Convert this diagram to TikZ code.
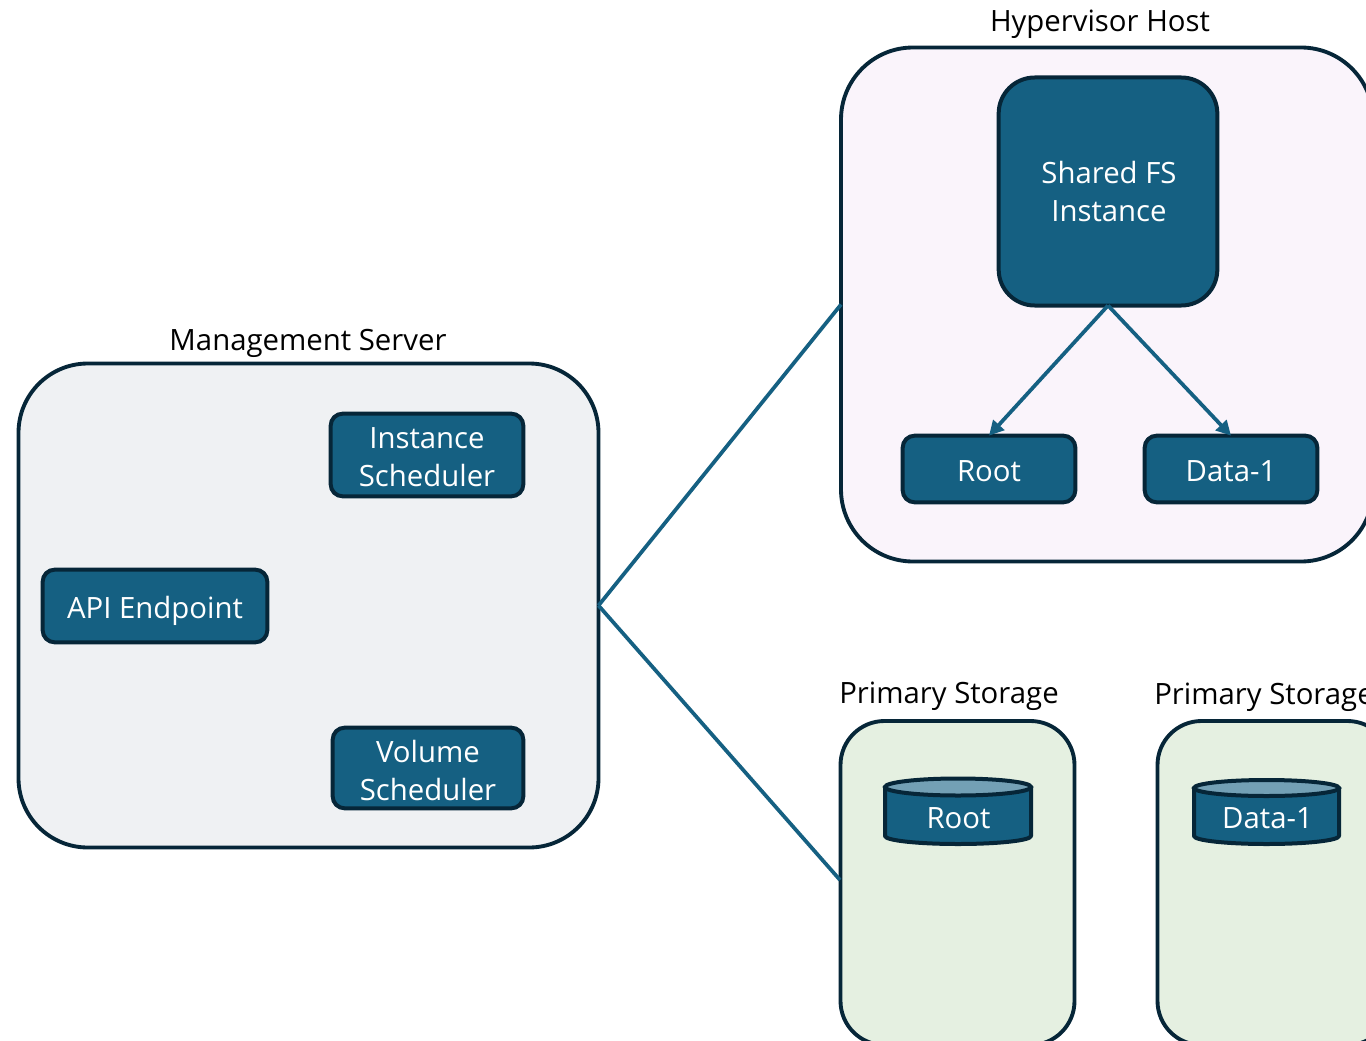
\documentclass[tikz,border=0pt]{standalone}
\usepackage{fontspec}
\setmainfont{Open Sans}
\usetikzlibrary{arrows.meta}
\definecolor{tealfill}{HTML}{156082}
\definecolor{darkedge}{HTML}{062638}
\definecolor{mgmtbg}{HTML}{EFF1F3}
\definecolor{hostbg}{HTML}{FAF4FB}
\definecolor{storebg}{HTML}{E5F0E1}
\definecolor{cyltop}{HTML}{73A0B5}
\tikzset{
  x=0.75pt,y=-0.75pt,
  panel/.style={draw=darkedge,line width=2.9pt,inner sep=0pt,outer sep=0pt},
  compbox/.style={draw=darkedge,fill=tealfill,line width=3pt,inner sep=0pt,outer sep=0pt,align=center,rounded corners=9pt},
  boxtext/.style={text=white,align=center,font=\fontsize{22}{28.5}\selectfont,inner sep=0pt},
  caption/.style={font=\fontsize{22}{26}\selectfont,text=black,inner sep=0pt},
  link/.style={draw=tealfill,line width=2.8pt},
  linkarrow/.style={link,-{Triangle[length=11pt,width=11pt]}},
  cylbody/.style={draw=darkedge,fill=tealfill,line width=3pt,line join=round},
  cylcap/.style={draw=darkedge,fill=cyltop,line width=3pt}
}
\begin{document}
\begin{tikzpicture}
\useasboundingbox (0,0) rectangle (1366,1041);
\clip (0,0) rectangle (1366,1041);
\fill[white] (0,0) rectangle (1366,1041);
% panels
\node[panel,fill=mgmtbg,rounded corners=52pt,minimum width=435pt,minimum height=363pt] (mgmt) at (308.5,605.5) {};
\node[panel,fill=hostbg,rounded corners=54pt,minimum width=399pt,minimum height=385.5pt] (host) at (1107,304.5) {};
\node[panel,fill=storebg,rounded corners=33pt,minimum width=175.5pt,minimum height=243pt] (storeA) at (957.5,883) {};
\node[panel,fill=storebg,rounded corners=33pt,minimum width=175.5pt,minimum height=243pt] (storeB) at (1274.5,883) {};
\coordinate (storeAin) at (840,880);
% captions
\node[caption] (mgmtcap) at (308,343) {Management Server};
\node[caption] (hostcap) at (1100,24) {Hypervisor Host};
\node[caption] (storeAcap) at (949,696) {Primary Storage};
\node[caption] (storeBcap) at (1264,697) {Primary Storage};
% boxes
\node[compbox,minimum width=144.5pt,minimum height=62pt] (inst) at (427,455) {};
\node[boxtext] (instt) at (427,457) {Instance\\Scheduler};
\node[compbox,minimum width=168.5pt,minimum height=54.5pt] (api) at (155,606) {};
\node[boxtext] (apit) at (155,611) {API Endpoint};
\node[compbox,minimum width=143pt,minimum height=60.5pt] (vol) at (428,768) {};
\node[boxtext] (volt) at (428,770) {Volume\\Scheduler};
\node[compbox,minimum width=164pt,minimum height=171pt,rounded corners=27pt] (shared) at (1108,191.5) {};
\node[boxtext] (sharedt) at (1109,192) {Shared FS\\Instance};
\node[compbox,minimum width=129.5pt,minimum height=50pt] (root) at (989,469) {};
\node[boxtext] (roott) at (989,471) {Root};
\node[compbox,minimum width=129.5pt,minimum height=50pt] (data) at (1231,469) {};
\node[boxtext] (datat) at (1231,471) {Data-1};
% cylinders
\draw[cylbody] (885,787) -- (885,836) arc[start angle=180,end angle=0,x radius=73,y radius=8] -- (1031,787) -- cycle;
\draw[cylcap] (958,787) ellipse[x radius=73,y radius=8.5];
\node[boxtext] (rootcyl) at (958.5,818) {Root};
\draw[cylbody] (1194,788) -- (1194,836) arc[start angle=180,end angle=0,x radius=72.5,y radius=8] -- (1339,788) -- cycle;
\draw[cylcap] (1266.5,788) ellipse[x radius=72.5,y radius=8];
\node[boxtext] (datacyl) at (1267.5,818.5) {Data-1};
% connectors
\draw[link] (mgmt.east) -- (host.west);
\draw[link] (mgmt.east) -- (storeAin);
\draw[linkarrow] (shared.south) -- (root.north);
\draw[linkarrow] (shared.south) -- (data.north);
\end{tikzpicture}
\end{document}
